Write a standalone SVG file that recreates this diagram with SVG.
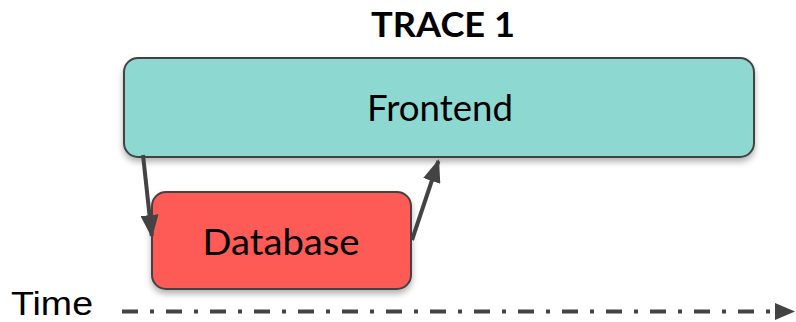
<svg xmlns="http://www.w3.org/2000/svg" width="796" height="322" viewBox="0 0 796 322">
  <style>
    .box { stroke: #434343; stroke-width: 2; filter: url(#shadow); }
    .label { font-family: Lato, "Noto Sans", sans-serif; fill: #000; text-anchor: middle; }
    .conn { stroke: #434343; stroke-width: 4; fill: none; marker-end: url(#head); }
  </style>
  <defs>
    <filter id="shadow" x="-10%" y="-20%" width="120%" height="150%">
      <feDropShadow dx="0" dy="4" stdDeviation="3" flood-color="#000" flood-opacity="0.3"/>
    </filter>
    <marker id="head" viewBox="0 0 23 18" refX="21" refY="9" markerWidth="23" markerHeight="18" markerUnits="userSpaceOnUse" orient="auto">
      <path d="M0,0 L23,9 L0,18 z" fill="#434343"/>
    </marker>
    <marker id="timehead" viewBox="0 0 20 17" refX="1" refY="8.5" markerWidth="20" markerHeight="17" markerUnits="userSpaceOnUse" orient="auto">
      <path d="M0,0 L20,8.5 L0,17 z" fill="#434343"/>
    </marker>
  </defs>

  <text class="label" x="443" y="37" font-size="34" font-weight="bold" textLength="144" lengthAdjust="spacingAndGlyphs">TRACE 1</text>

  <g id="frontend">
    <rect class="box" x="124" y="58" width="630" height="99" rx="14" fill="#8ed8d2"/>
    <text class="label" x="440" y="121" font-size="36" textLength="146" lengthAdjust="spacingAndGlyphs">Frontend</text>
  </g>

  <g id="database">
    <rect class="box" x="152" y="192" width="259" height="97" rx="14" fill="#fe5a57"/>
    <text class="label" x="281" y="255" font-size="36" textLength="157" lengthAdjust="spacingAndGlyphs">Database</text>
  </g>

  <g id="connectors">
    <line class="conn" x1="143" y1="155" x2="151.8" y2="236"/>
    <line class="conn" x1="412" y1="240" x2="438.4" y2="161"/>
  </g>

  <g id="time-axis">
    <text x="11" y="315" font-family="'Liberation Sans', Arial, sans-serif" font-size="33" fill="#000" textLength="82" lengthAdjust="spacingAndGlyphs">Time</text>
    <line x1="122" y1="311.5" x2="776" y2="311.5" stroke="#434343" stroke-width="4" stroke-dasharray="16 12 4 12" marker-end="url(#timehead)"/>
  </g>
</svg>
